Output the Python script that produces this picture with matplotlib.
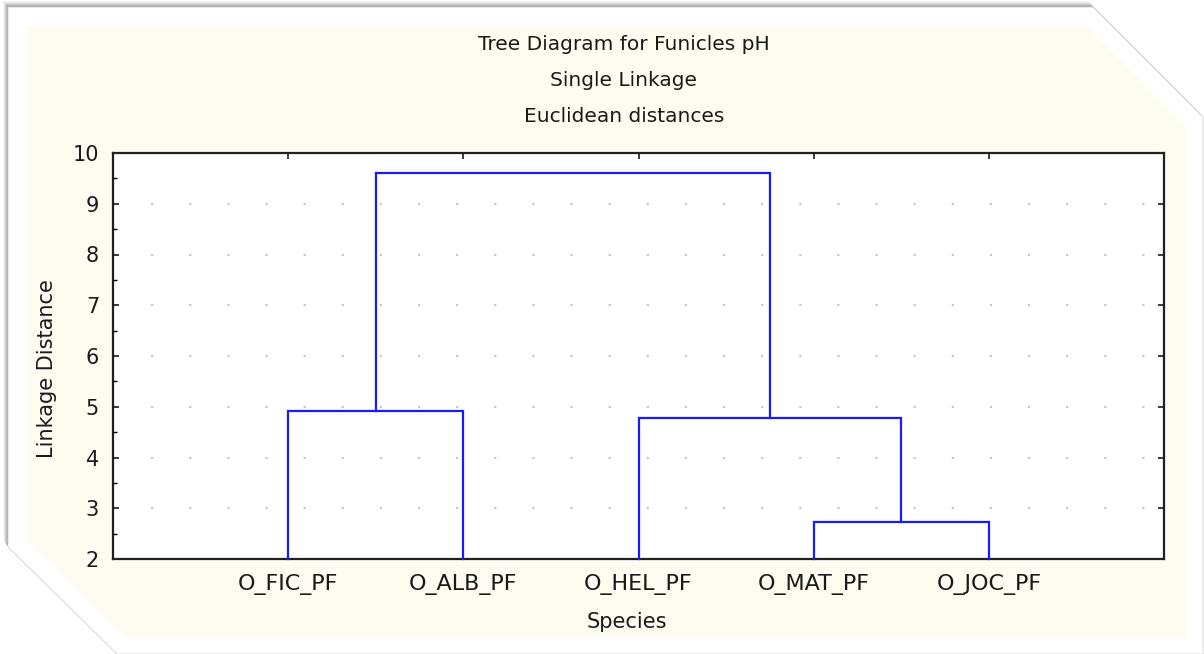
import matplotlib
matplotlib.use("Agg")
import matplotlib.pyplot as plt
from matplotlib.patches import Polygon
from matplotlib.ticker import MultipleLocator

# ---- data ----
leaves = ["O_FIC_PF", "O_ALB_PF", "O_HEL_PF", "O_MAT_PF", "O_JOC_PF"]
# merges: (left cluster, right cluster, linkage distance); clusters by leaf name or merge index
merge_left = ["O_FIC_PF", "O_MAT_PF", "O_HEL_PF", 0]
merge_right = ["O_ALB_PF", "O_JOC_PF", 1, 2]
merge_height = [4.92, 2.73, 4.78, 9.61]
title_lines = ["Tree Diagram for Funicles pH", "Single Linkage", "Euclidean distances"]
y_ticks = [2, 3, 4, 5, 6, 7, 8, 9, 10]

W, H = 1204, 654
plt.rcParams['font.family'] = ['DejaVu Sans']
fig = plt.figure(figsize=(W / 100, H / 100), dpi=100)

# ---- background frame ----
bg = fig.add_axes([0, 0, 1, 1], zorder=0)
bg.set_xlim(0, W)
bg.set_ylim(H, 0)
bg.axis("off")
outer = [(8, 7), (1093, 7), (1203, 117), (1203, 654), (117, 654), (8, 547)]
for i, a in enumerate([0.04, 0.05, 0.06, 0.08, 0.10, 0.12]):
    off = 6 - i
    shp = [(x - off * 0.8, y - off) for x, y in outer]
    bg.add_patch(Polygon(shp, closed=True, facecolor="black", alpha=a, edgecolor="none"))
bg.add_patch(Polygon(outer, closed=True, facecolor="white", edgecolor="#d0d0d0", linewidth=0.6))
inner = [(27, 26), (1087, 26), (1186, 127), (1186, 638), (127, 638), (27, 540)]
bg.add_patch(Polygon(inner, closed=True, facecolor="#FEFBF0", edgecolor="none"))

# ---- plot axes ----
L, T, R, B = 113, 153, 1164, 559
ax = fig.add_axes([L / W, 1 - B / H, (R - L) / W, (B - T) / H], zorder=1)
ax.set_facecolor("white")
ax.set_xlim(0, len(leaves) + 1)
ax.set_ylim(2, 10)

pos = {name: i + 1 for i, name in enumerate(leaves)}
hgt = {name: 2.0 for name in leaves}
for k, (a, b, h) in enumerate(zip(merge_left, merge_right, merge_height)):
    xa, xb = pos[a], pos[b]
    ya, yb = hgt[a], hgt[b]
    ax.plot([xa, xa, xb, xb], [ya, h, h, yb], color="#1a1aff", linewidth=1.6,
            solid_joinstyle="miter", zorder=3, clip_on=False)
    pos[k] = (xa + xb) / 2
    hgt[k] = h

for yv in y_ticks[1:-1]:
    ax.axhline(yv, color="#c4c4c4", linewidth=1.5, linestyle=(0, (1, 17.3)), zorder=1)

ax.set_xticks(range(1, len(leaves) + 1))
ax.set_xticklabels(leaves)
ax.set_yticks(y_ticks)
ax.yaxis.set_minor_locator(MultipleLocator(0.5))
ax.tick_params(axis="both", which="major", direction="in", length=4, width=1.2,
               top=True, right=True, labelsize=15, colors="#1a1a1a", pad=10)
ax.tick_params(axis="y", which="minor", direction="in", length=3, width=1.0, right=False)
ax.tick_params(axis="x", pad=11, labelsize=16)
for s in ax.spines.values():
    s.set_linewidth(1.6)
    s.set_color("#202020")

ax.set_xlabel("Species", fontsize=15, color="#1a1a1a", va="center", ha="center")
ax.set_ylabel("Linkage Distance", fontsize=15, color="#1a1a1a", va="center", ha="center")
ax.xaxis.set_label_coords((627 - L) / (R - L), -(622 - B) / (B - T))
ax.yaxis.set_label_coords(-(L - 47) / (R - L), 1 - (369 - T) / (B - T))

for txt, yp in zip(title_lines, [45, 80, 116]):
    fig.text(624 / W, 1 - yp / H, txt, ha="center", va="center", fontsize=14.5, color="#1a1a1a")

fig.savefig("out.png", dpi=100)
